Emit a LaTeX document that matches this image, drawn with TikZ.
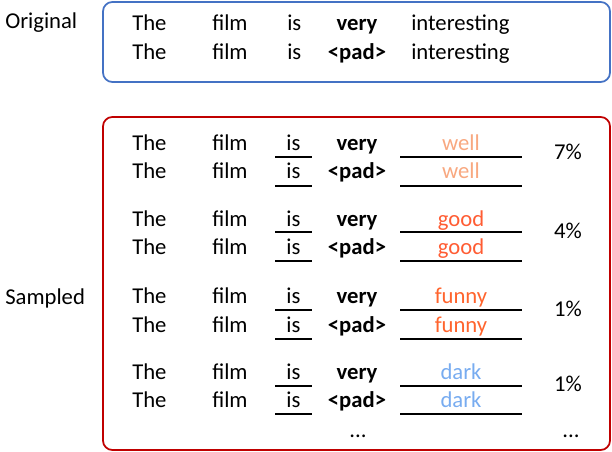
\documentclass[tikz,border=0pt]{standalone}
\usepackage{fontspec}
\setmainfont{Carlito}
\definecolor{boxblue}{RGB}{68,114,196}
\definecolor{boxred}{RGB}{192,0,0}
\definecolor{cwell}{RGB}{248,168,128}
\definecolor{cgood}{RGB}{255,92,51}
\definecolor{cfunny}{RGB}{255,100,45}
\definecolor{cdark}{RGB}{120,172,240}
\begin{document}
\begin{tikzpicture}[x=0.75pt,y=-0.75pt,
  txt/.style={inner sep=0pt,font=\fontsize{17}{20}\selectfont},
  lw/.style={txt,anchor=base west},
  cw/.style={txt,anchor=base},
  bw/.style={txt,anchor=base,font=\fontsize{17}{20}\selectfont\bfseries},
  uline/.style={line width=1.6pt},
  frame/.style={line width=1.3pt,rounded corners=7pt}]
\useasboundingbox (0,0) rectangle (612,452);
% frames
\draw[frame,boxblue] (103,2) rectangle (610,82);
\draw[frame,boxred] (103,117) rectangle (610,450);
% labels
\node[lw] (lorig) at (5,29) {Original};
\node[lw] (lsamp) at (5,305) {Sampled};
% original rows
\node[lw] (o1a) at (132,31) {The};
\node[lw] (o1b) at (212,31) {film};
\node[lw] (o1c) at (287,31) {is};
\node[bw] (o1d) at (357,31) {very};
\node[lw] (o1e) at (411,31) {interesting};
\node[lw] (o2a) at (132,60) {The};
\node[lw] (o2b) at (212,60) {film};
\node[lw] (o2c) at (287,60) {is};
\node[bw] (o2d) at (357,60) {<pad>};
\node[lw] (o2e) at (411,60) {interesting};
% sampled groups
\foreach \ya/\yb/\ua/\ub/\w/\c/\p/\pp/\n in {
  151/179/157/186/well/cwell/7\%/160/g1,
  227/255/232/261/good/cgood/4\%/239/g2,
  304/333/310/339/funny/cfunny/1\%/317/g3,
  380/408/386/414/dark/cdark/1\%/392/g4}{
  \node[lw] (\n a1) at (132,\ya) {The};
  \node[lw] (\n b1) at (212,\ya) {film};
  \node[cw] (\n c1) at (293.5,\ya) {is};
  \node[bw] (\n d1) at (357,\ya) {very};
  \node[cw,text=\c] (\n e1) at (461,\ya) {\w};
  \node[lw] (\n a2) at (132,\yb) {The};
  \node[lw] (\n b2) at (212,\yb) {film};
  \node[cw] (\n c2) at (293.5,\yb) {is};
  \node[bw] (\n d2) at (357,\yb) {<pad>};
  \node[cw,text=\c] (\n e2) at (461,\yb) {\w};
  \node[cw] (\n p) at (568,\pp) {\p};
  \coordinate (\n u1a) at (275,\ua);
  \coordinate (\n u1b) at (312,\ua);
  \coordinate (\n u2a) at (275,\ub);
  \coordinate (\n u2b) at (312,\ub);
  \coordinate (\n v1a) at (400,\ua);
  \coordinate (\n v1b) at (522,\ua);
  \coordinate (\n v2a) at (400,\ub);
  \coordinate (\n v2b) at (522,\ub);
  \draw[uline] (\n u1a) -- (\n u1b);
  \draw[uline] (\n u2a) -- (\n u2b);
  \draw[uline] (\n v1a) -- (\n v1b);
  \draw[uline] (\n v2a) -- (\n v2b);
}
\node[cw] (dots1) at (358,438) {...};
\node[cw] (dots2) at (571,438) {...};
\end{tikzpicture}
\end{document}
